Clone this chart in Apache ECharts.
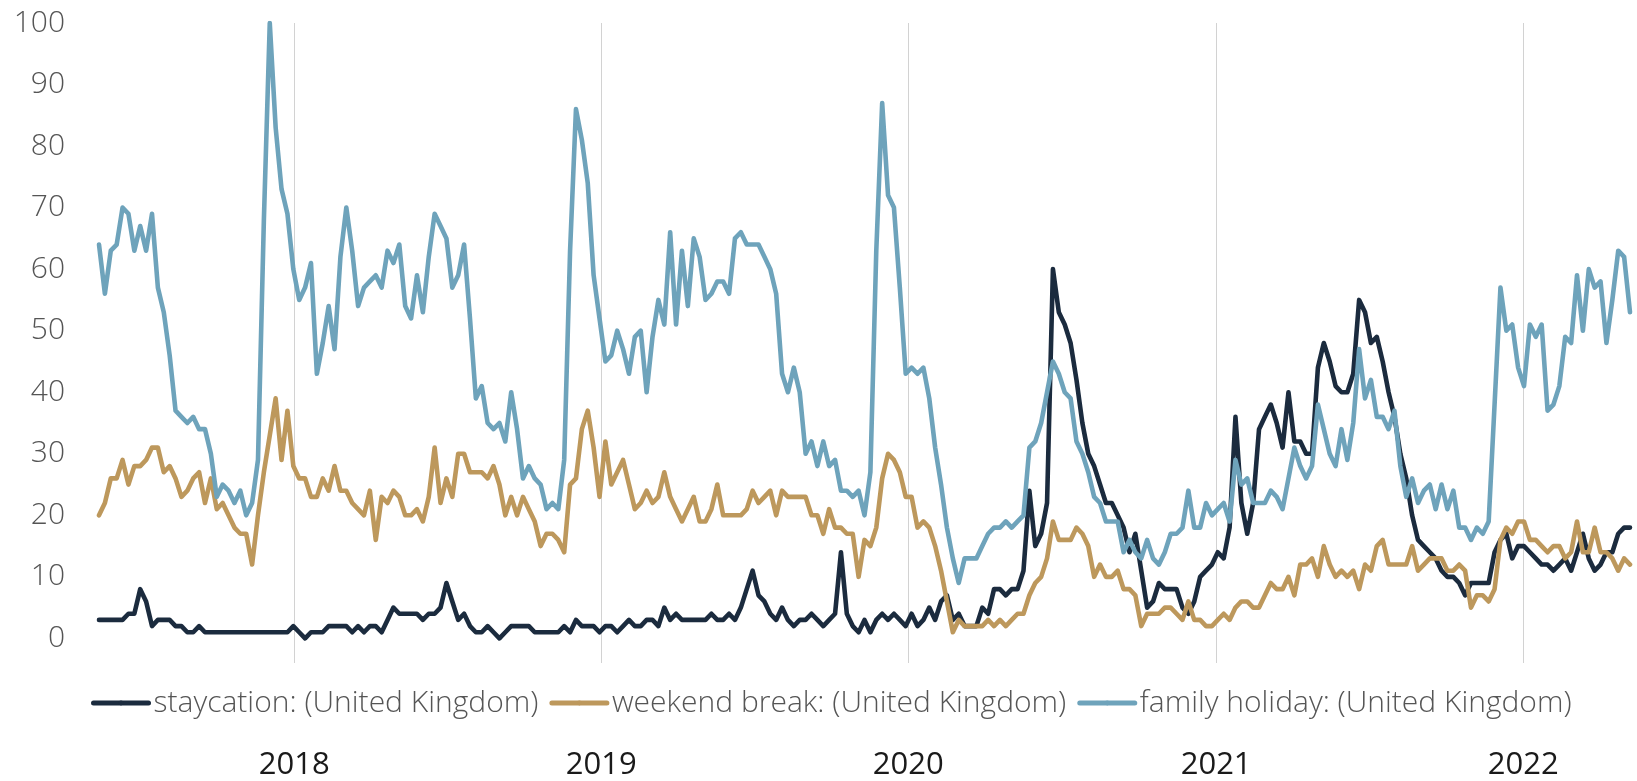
<!DOCTYPE html>
<html>
<head>
<meta charset="utf-8">
<script src="https://cdn.jsdelivr.net/npm/echarts@6/dist/echarts.min.js"></script>
<style>
html,body{margin:0;padding:0;background:#ffffff;}
#chart{width:1637px;height:781px;}
</style>
</head>
<body>
<div id="chart"></div>
<script>
// ---- data (weekly search interest, index 0-100) ----
const startYear = 2017, startMonth = 4, startDay = 14; // first week: 2017-05-14
const yearTicks = [2018, 2019, 2020, 2021, 2022];
const yTicks = [0, 10, 20, 30, 40, 50, 60, 70, 80, 90, 100];
const seriesNames = ['staycation: (United Kingdom)', 'weekend break: (United Kingdom)', 'family holiday: (United Kingdom)'];
const seriesColors = ['#1b2b3e', '#bd985c', '#6ea3bb'];

const staycation = [
3,3,3,3,3,4,4,8,6,2,
3,3,3,2,2,1,1,2,1,1,
1,1,1,1,1,1,1,1,1,1,
1,1,1,2,1,0,1,1,1,2,
2,2,2,1,2,1,2,2,1,3,
5,4,4,4,4,3,4,4,5,9,
6,3,4,2,1,1,2,1,0,1,
2,2,2,2,1,1,1,1,1,2,
1,3,2,2,2,1,2,2,1,2,
3,2,2,3,3,2,5,3,4,3,
3,3,3,3,4,3,3,4,3,5,
8,11,7,6,4,3,5,3,2,3,
3,4,3,2,3,4,14,4,2,1,
3,1,3,4,3,4,3,2,4,2,
3,5,3,6,7,3,4,2,2,2,
5,4,8,8,7,8,8,11,24,15,
17,22,60,53,51,48,42,35,30,28,
25,22,22,20,18,14,17,11,5,6,
9,8,8,8,5,4,6,10,11,12,
14,13,18,36,22,17,22,34,36,38,
35,31,40,32,32,30,30,44,48,45,
41,40,40,43,55,53,48,49,45,40,
36,30,26,20,16,15,14,13,11,10,
10,9,7,9,9,9,9,14,16,17,
13,15,15,14,13,12,12,11,12,13,
11,14,17,13,11,12,14,14,17,18,
18];

const weekendBreak = [
20,22,26,26,29,25,28,28,29,31,
31,27,28,26,23,24,26,27,22,26,
21,22,20,18,17,17,12,20,27,33,
39,29,37,28,26,26,23,23,26,24,
28,24,24,22,21,20,24,16,23,22,
24,23,20,20,21,19,23,31,22,26,
23,30,30,27,27,27,26,28,25,20,
23,20,23,21,19,15,17,17,16,14,
25,26,34,37,31,23,32,25,27,29,
25,21,22,24,22,23,27,23,21,19,
21,23,19,19,21,25,20,20,20,20,
21,24,22,23,24,20,24,23,23,23,
23,20,20,17,21,18,18,17,17,10,
16,15,18,26,30,29,27,23,23,18,
19,18,15,11,6,1,3,2,2,2,
2,3,2,3,2,3,4,4,7,9,
10,13,19,16,16,16,18,17,15,10,
12,10,10,11,8,8,7,2,4,4,
4,5,5,4,3,6,3,3,2,2,
3,4,3,5,6,6,5,5,7,9,
8,8,10,7,12,12,13,10,15,12,
10,11,10,11,8,12,11,15,16,12,
12,12,12,15,11,12,13,13,13,11,
11,12,11,5,7,7,6,8,16,18,
17,19,19,16,16,15,14,15,15,13,
14,19,14,14,18,14,14,13,11,13,
12];

const familyHoliday = [
64,56,63,64,70,69,63,67,63,69,
57,53,46,37,36,35,36,34,34,30,
23,25,24,22,24,20,22,29,68,100,
83,73,69,60,55,57,61,43,48,54,
47,62,70,63,54,57,58,59,57,63,
61,64,54,52,59,53,62,69,67,65,
57,59,64,52,39,41,35,34,35,32,
40,34,26,28,26,25,21,22,21,29,
63,86,81,74,59,52,45,46,50,47,
43,49,50,40,49,55,51,66,51,63,
54,65,62,55,56,58,58,56,65,66,
64,64,64,62,60,56,43,40,44,40,
30,32,28,32,28,29,24,24,23,24,
20,27,63,87,72,70,57,43,44,43,
44,39,31,25,18,13,9,13,13,13,
15,17,18,18,19,18,19,20,31,32,
35,40,45,43,40,39,32,30,27,23,
22,19,19,19,14,16,14,13,16,13,
12,14,17,17,18,24,18,18,22,20,
21,22,19,29,25,26,22,22,22,24,
23,21,26,31,28,26,28,38,34,30,
28,34,29,35,47,39,42,36,36,34,
37,28,23,26,22,24,25,21,25,21,
24,18,18,16,18,17,19,38,57,50,
51,44,41,51,49,51,37,38,41,49,
48,59,50,60,57,58,48,55,63,62,
53];

// ---- build options ----
const weekTimes = staycation.map((_, i) => new Date(startYear, startMonth, startDay + 7 * i).getTime());
const yearTimes = yearTicks.map(y => new Date(y, 0, 1).getTime());
const pair = arr => arr.map((v, i) => [weekTimes[i], v]);
const allValues = [staycation, weekendBreak, familyHoliday];

const FONT = '"Open Sans", "Noto Sans", sans-serif';

const chart = echarts.init(document.getElementById('chart'), null, {renderer: 'canvas'});
chart.setOption({
  animation: false,
  backgroundColor: '#ffffff',
  grid: {left: 99, right: 7, top: 23, bottom: 113, containLabel: false},
  legend: {
    left: 91, top: 688, padding: 0,
    itemWidth: 55, itemHeight: 6, itemGap: 11,
    lineStyle: {width: 5, cap: 'round'},
    textStyle: {fontFamily: FONT, fontWeight: 300, fontSize: 30, color: '#555555'},
    data: seriesNames
  },
  xAxis: {
    type: 'value',
    min: weekTimes[0],
    max: weekTimes[weekTimes.length - 1],
    axisLine: {show: false},
    axisTick: {show: false, customValues: yearTimes},
    axisLabel: {
      customValues: yearTimes,
      formatter: v => String(new Date(v).getFullYear()),
      margin: 87, fontFamily: FONT, fontWeight: 400, fontSize: 31, color: '#1a1a1a'
    },
    splitLine: {show: true, lineStyle: {color: '#d2d2d2', width: 1}}
  },
  yAxis: {
    type: 'value', min: -4, max: 100,
    axisLine: {show: false}, axisTick: {show: false, customValues: yTicks},
    axisLabel: {customValues: yTicks, margin: 34, fontFamily: FONT, fontWeight: 300, fontSize: 30, color: '#555555'},
    splitLine: {show: false}
  },
  series: seriesNames.map((name, k) => ({
    name: name,
    type: 'line',
    data: pair(allValues[k]),
    symbol: 'none',
    showSymbol: false,
    color: seriesColors[k],
    lineStyle: {width: 4.6, color: seriesColors[k], cap: 'round', join: 'round'}
  }))
});
</script>
</body>
</html>
